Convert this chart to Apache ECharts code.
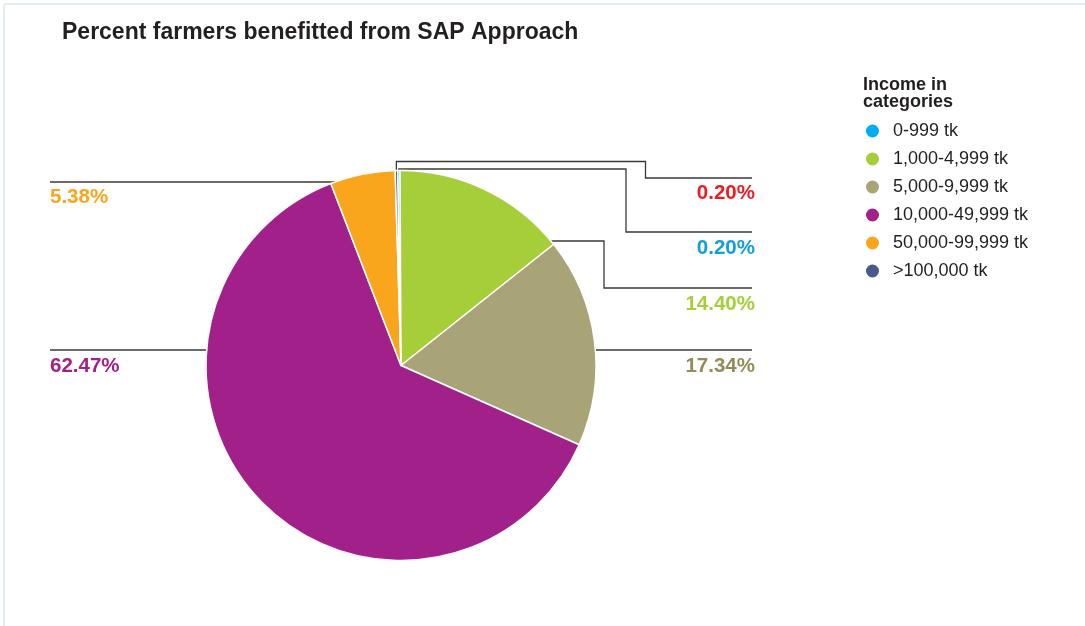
<!DOCTYPE html>
<html>
<head>
<meta charset="utf-8">
<title>Percent farmers benefitted from SAP Approach</title>
<script src="https://cdn.jsdelivr.net/npm/echarts@6/dist/echarts.min.js"></script>
<style>
  html, body { margin: 0; padding: 0; background: #ffffff; overflow: hidden; }
  #frame {
    position: absolute; left: 3px; top: 3px; width: 1120px; height: 700px;
    border: 2px solid #e1ecf3; border-radius: 3px; box-sizing: border-box;
  }
  #chart { position: absolute; left: 0; top: 0; width: 1085px; height: 626px; }
</style>
</head>
<body>
<div id="frame"></div>
<div id="chart"></div>
<script>
// Income categories and share of farmers (%)
const categories = ['0-999 tk', '1,000-4,999 tk', '5,000-9,999 tk', '10,000-49,999 tk', '50,000-99,999 tk', '>100,000 tk'];
const shares = [0.20, 14.40, 17.34, 62.47, 5.38, 0.20];

// Styling
const sliceColors = ['#00aeef', '#a6ce39', '#a9a477', '#a1208a', '#f9a61c', '#475a8c'];
const labelColors = ['#0f9fdc', '#a6ce39', '#928c56', '#a1208a', '#f9a61c', '#ed1c24'];

// Pie geometry
const CX = 401, CY = 365.5, R = 195, START = 91;

// Callout placement for each label: side, leader y, label centre y, elbow column(s)
const callouts = [
  { side: 'right', top: true, riseY: 169, elbowX: 626, lineY: 232, textY: 248 },
  { side: 'right', lineY: 241, elbowX: 604, dropY: 288, textY: 304 },
  { side: 'right', lineY: 350, textY: 366 },
  { side: 'left',  lineY: 350, textY: 366 },
  { side: 'left',  lineY: 182, textY: 197 },
  { side: 'right', top: true, riseY: 161.5, elbowX: 645.5, lineY: 178, textY: 193 }
];
const RIGHT_END = 752, LEFT_END = 50;

// Mid angle (deg, clockwise from 12 o'clock) of each slice, from the data
const total = shares.reduce((a, b) => a + b, 0);
const midAngles = [];
(function () {
  let acc = 0;
  shares.forEach(v => {
    midAngles.push(((acc + v / 2) / total) * 360 - (START - 90));
    acc += v;
  });
})();

function edgeAtY(y, side) {
  const dx = Math.sqrt(Math.max(0, R * R - (y - CY) * (y - CY)));
  return side === 'left' ? CX - dx : CX + dx;
}

function leaderPoints(i) {
  const c = callouts[i];
  if (c.top) {
    const a = midAngles[i] * Math.PI / 180;
    const ax = CX + R * Math.sin(a), ay = CY - R * Math.cos(a);
    return [[ax, ay], [ax, c.riseY], [c.elbowX, c.riseY], [c.elbowX, c.lineY], [RIGHT_END, c.lineY]];
  }
  if (c.dropY) {
    const sx = edgeAtY(c.lineY, 'right');
    return [[sx, c.lineY], [c.elbowX, c.lineY], [c.elbowX, c.dropY], [RIGHT_END, c.dropY]];
  }
  const sx = edgeAtY(c.lineY, c.side);
  return [[sx, c.lineY], [c.side === 'left' ? LEFT_END : RIGHT_END, c.lineY]];
}

const FONT = '"Liberation Sans", Arial, Helvetica, sans-serif';
const chart = echarts.init(document.getElementById('chart'), null, { renderer: 'canvas' });

chart.setOption({
  animation: false,
  textStyle: { fontFamily: FONT },
  title: [
    {
      text: 'Percent farmers benefitted from SAP Approach',
      left: 57, top: 16,
      textStyle: { fontSize: 23, fontWeight: 'bold', color: '#231f20', fontFamily: FONT }
    },
    {
      text: 'Income in\ncategories',
      left: 858, top: 72,
      textStyle: { fontSize: 18, lineHeight: 17, fontWeight: 'bold', color: '#231f20', fontFamily: FONT }
    }
  ],
  legend: {
    orient: 'vertical',
    left: 859, top: 117,
    icon: 'circle',
    itemWidth: 15, itemHeight: 15,
    itemGap: 10,
    data: categories,
    textStyle: { fontSize: 18, color: '#231f20', padding: [0, 0, 0, 8], fontFamily: FONT },
    selectedMode: false
  },
  series: [{
    type: 'pie',
    center: [CX, CY],
    radius: R,
    startAngle: START,
    clockwise: true,
    avoidLabelOverlap: false,
    minShowLabelAngle: 0,
    itemStyle: { borderColor: '#ffffff', borderWidth: 1.5 },
    emphasis: { disabled: true },
    label: {
      show: true,
      position: 'outside',
      fontSize: 20.5,
      fontWeight: 'bold',
      fontFamily: FONT,
      formatter: p => p.value.toFixed(2) + '%'
    },
    labelLine: { show: true, length: 10, length2: 10, lineStyle: { color: '#3a3a3a', width: 1.3 } },
    labelLayout: function (params) {
      const i = params.dataIndex;
      const c = callouts[i];
      return {
        x: c.side === 'left' ? LEFT_END : RIGHT_END + 3,
        y: c.textY,
        align: c.side === 'left' ? 'left' : 'right',
        verticalAlign: 'middle',
        labelLinePoints: leaderPoints(i)
      };
    },
    data: categories.map((name, i) => ({
      name: name,
      value: shares[i],
      itemStyle: { color: sliceColors[i] },
      label: { color: labelColors[i] }
    }))
  }]
});
</script>
</body>
</html>
